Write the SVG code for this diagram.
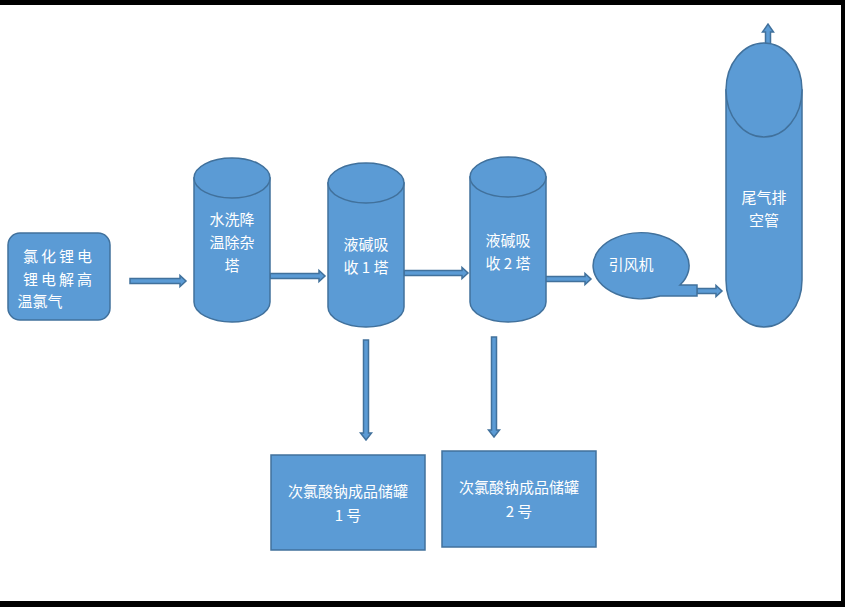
<svg xmlns="http://www.w3.org/2000/svg" width="845" height="607" viewBox="0 0 845 607">
<style>
.s{fill:#5b9bd5;stroke:#41719c;stroke-width:1.5}
.t{font-family:"Noto Sans CJK SC","Liberation Sans",sans-serif;font-size:15px;fill:#fff;text-anchor:middle}
</style>
<rect width="845" height="607" fill="#fff"/>
<rect x="0" y="0" width="845" height="5" fill="#000"/>
<rect x="0" y="601" width="845" height="6" fill="#000"/>
<rect x="841" y="0" width="4" height="607" fill="#000"/>
<g id="connectors">
<path class="s" d="M130 278.5H180V275.5L186 281L180 286.5V283.5H130Z"/>
<path class="s" d="M270 273.5H319V270.5L325 276L319 281.5V278.5H270Z"/>
<path class="s" d="M404 270.5H462V267.5L468 273L462 278.5V275.5H404Z"/>
<path class="s" d="M537 276.5H585V273.5L591 279L585 284.5V281.5H537Z"/>
<path class="s" d="M697 288.5H716V285.5L722 291L716 296.5V293.5H697Z"/>
<path class="s" d="M765.5 90V32H762.5L768 24L773.5 32H770.5V90Z"/>
<path class="s" d="M363.5 340H368.5V433H371.5L366 440L360.5 433H363.5Z"/>
<path class="s" d="M491.5 337H496.5V430H499.5L494 437L488.5 430H491.5Z"/>
</g>
<g id="source"><rect class="s" x="8" y="233" width="102" height="87" rx="12"/>
<text class="t"><tspan x="59" y="262" letter-spacing="3">氯化锂电</tspan><tspan x="59" y="285" letter-spacing="3">锂电解高</tspan><tspan x="40" y="307">温氯气</tspan></text></g>
<g id="tower1"><path class="s" d="M194 178V302A38 20 0 0 0 270 302V178Z"/><ellipse class="s" cx="232" cy="178" rx="38" ry="20"/>
<text class="t"><tspan x="232" y="225">水洗降</tspan><tspan x="232" y="248">温除杂</tspan><tspan x="232" y="271">塔</tspan></text></g>
<g id="tower2"><path class="s" d="M328 183V307A38 20 0 0 0 404 307V183Z"/><ellipse class="s" cx="366" cy="183" rx="38" ry="20"/>
<text class="t"><tspan x="366" y="250">液碱吸</tspan><tspan x="366" y="273">收 1 塔</tspan></text></g>
<g id="tower3"><path class="s" d="M470 177V302A38 20 0 0 0 546 302V177Z"/><ellipse class="s" cx="508" cy="177" rx="38" ry="20"/>
<text class="t"><tspan x="508" y="246">液碱吸</tspan><tspan x="508" y="269">收 2 塔</tspan></text></g>
<g id="fan"><path class="s" d="M680 285A48 33 0 1 0 660 296H697V285Z"/>
<text class="t" x="631" y="270">引风机</text></g>
<g id="stack"><path class="s" d="M726 90V280A38 47 0 0 0 802 280V90Z"/><ellipse class="s" cx="764" cy="90" rx="38" ry="47"/>
<text class="t"><tspan x="764" y="203">尾气排</tspan><tspan x="764" y="226">空管</tspan></text></g>
<g id="tank1"><rect class="s" x="271" y="455" width="154" height="95"/>
<text class="t"><tspan x="348" y="497">次氯酸钠成品储罐</tspan><tspan x="348" y="521">1 号</tspan></text></g>
<g id="tank2"><rect class="s" x="442" y="451" width="154" height="96"/>
<text class="t"><tspan x="519" y="493">次氯酸钠成品储罐</tspan><tspan x="519" y="517">2 号</tspan></text></g>
</svg>
